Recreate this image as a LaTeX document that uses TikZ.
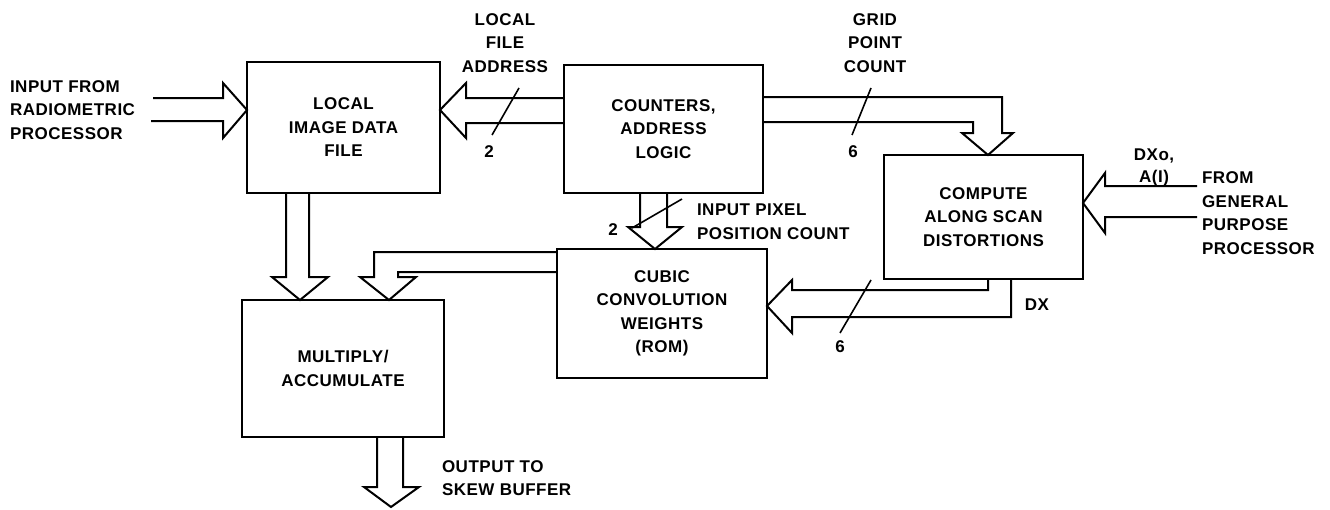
\documentclass[tikz,border=0pt]{standalone}
\usepackage{fontspec}
\setmainfont{Liberation Sans}[LetterSpace=3.0]
\usetikzlibrary{calc}
\newcommand{\dgfont}{\fontsize{17}{23.5}\selectfont\bfseries}
\begin{document}
\begin{tikzpicture}[x=1pt,y=-1pt,
  box/.style={draw, line width=2.6pt, outer sep=0pt, inner sep=0pt, align=center, font=\dgfont},
  lbl/.style={inner sep=0pt, outer sep=0pt, font=\dgfont},
  barrow/.style={draw, line width=2pt, line join=miter},
  slash/.style={draw, line width=1.6pt}]
\useasboundingbox (0,0) rectangle (1330,509);

% blocks
\node[box, minimum width=193pt, minimum height=131pt] (lidf) at (343.5,127.5) {LOCAL\\IMAGE DATA\\FILE};
\node[box, minimum width=199pt, minimum height=128pt] (cnt) at (663.5,129) {COUNTERS,\\ADDRESS\\LOGIC};
\node[box, minimum width=199pt, minimum height=124pt] (cmp) at (983.5,217) {COMPUTE\\ALONG SCAN\\DISTORTIONS};
\node[box, minimum width=210pt, minimum height=129pt] (cub) at (662,313.5) {CUBIC\\CONVOLUTION\\WEIGHTS\\(ROM)};
\node[box, minimum width=202pt, minimum height=137pt] (mul) at (343,368.5) {MULTIPLY/\\ACCUMULATE};

% labels
\node[lbl, anchor=west, align=left] (inlbl) at (10,110) {INPUT FROM\\RADIOMETRIC\\PROCESSOR};
\node[lbl, align=center] (lfa) at (505,43) {LOCAL\\FILE\\ADDRESS};
\node[lbl] (n2a) at (489,152) {2};
\node[lbl, align=center] (gpc) at (875,43) {GRID\\POINT\\COUNT};
\node[lbl] (n6a) at (853,152) {6};
\node[lbl, align=center, font=\fontsize{17}{21.5}\selectfont\bfseries] (dxo) at (1154,167.5) {DXo,\\A(I)};
\node[lbl, anchor=west, align=left] (gpp) at (1202,213) {FROM\\GENERAL\\PURPOSE\\PROCESSOR};
\node[lbl, anchor=west, align=left] (ipp) at (697,221.5) {INPUT PIXEL\\POSITION COUNT};
\node[lbl] (n2b) at (613,230) {2};
\node[lbl] (n6b) at (840,347) {6};
\node[lbl] (dx) at (1037,305) {DX};
\node[lbl, anchor=west, align=left] (outlbl) at (442,478) {OUTPUT TO\\SKEW BUFFER};

% input -> local image data file
\draw[barrow] (153,98) -- (223,98) -- (223,83) -- (lidf.west |- 0,110) -- (223,138) -- (223,121) -- (151,121);

% counters -> local image data file
\draw[barrow] (cnt.west |- 0,98) -- (466,98) -- (466,83) -- (lidf.east |- 0,110) -- (466,138) -- (466,123) -- (cnt.west |- 0,123);
\draw[slash] (519,88) -- (492,135);

% counters -> compute
\draw[barrow] (cnt.east |- 0,97) -- (1002,97) -- (1002,133) -- (1013,133) -- (988,0 |- cmp.north) -- (962,133) -- (973,133) -- (973,122) -- (cnt.east |- 0,122);
\draw[slash] (871,88) -- (852,135);

% general purpose processor -> compute
\draw[barrow] (1197,186) -- (1105,186) -- (1105,173) -- (cmp.east |- 0,203) -- (1105,233) -- (1105,217) -- (1197,217);

% counters -> cubic
\draw[barrow] (640,0 |- cnt.south) -- (640,227) -- (628,227) -- (655,0 |- cub.north) -- (682,227) -- (667,227) -- (667,0 |- cnt.south);
\draw[slash] (682,199) -- (632,228);

% compute -> cubic
\draw[barrow] (988,0 |- cmp.south) -- (988,290) -- (792,290) -- (792,280) -- (cub.east |- 0,306) -- (792,333) -- (792,317) -- (1011,317) -- (1011,0 |- cmp.south);
\draw[slash] (871,280) -- (840,333);

% cubic -> multiply
\draw[barrow] (cub.west |- 0,252) -- (374,252) -- (374,277) -- (360,277) -- (389,0 |- mul.north) -- (416,277) -- (398,277) -- (398,272) -- (cub.west |- 0,272);

% local image data file -> multiply
\draw[barrow] (286,0 |- lidf.south) -- (286,277) -- (272,277) -- (300,0 |- mul.north) -- (328,277) -- (309,277) -- (309,0 |- lidf.south);

% multiply -> output
\draw[barrow] (377,0 |- mul.south) -- (377,487) -- (364,487) -- (391,507) -- (419,487) -- (403,487) -- (403,0 |- mul.south);
\end{tikzpicture}
\end{document}
